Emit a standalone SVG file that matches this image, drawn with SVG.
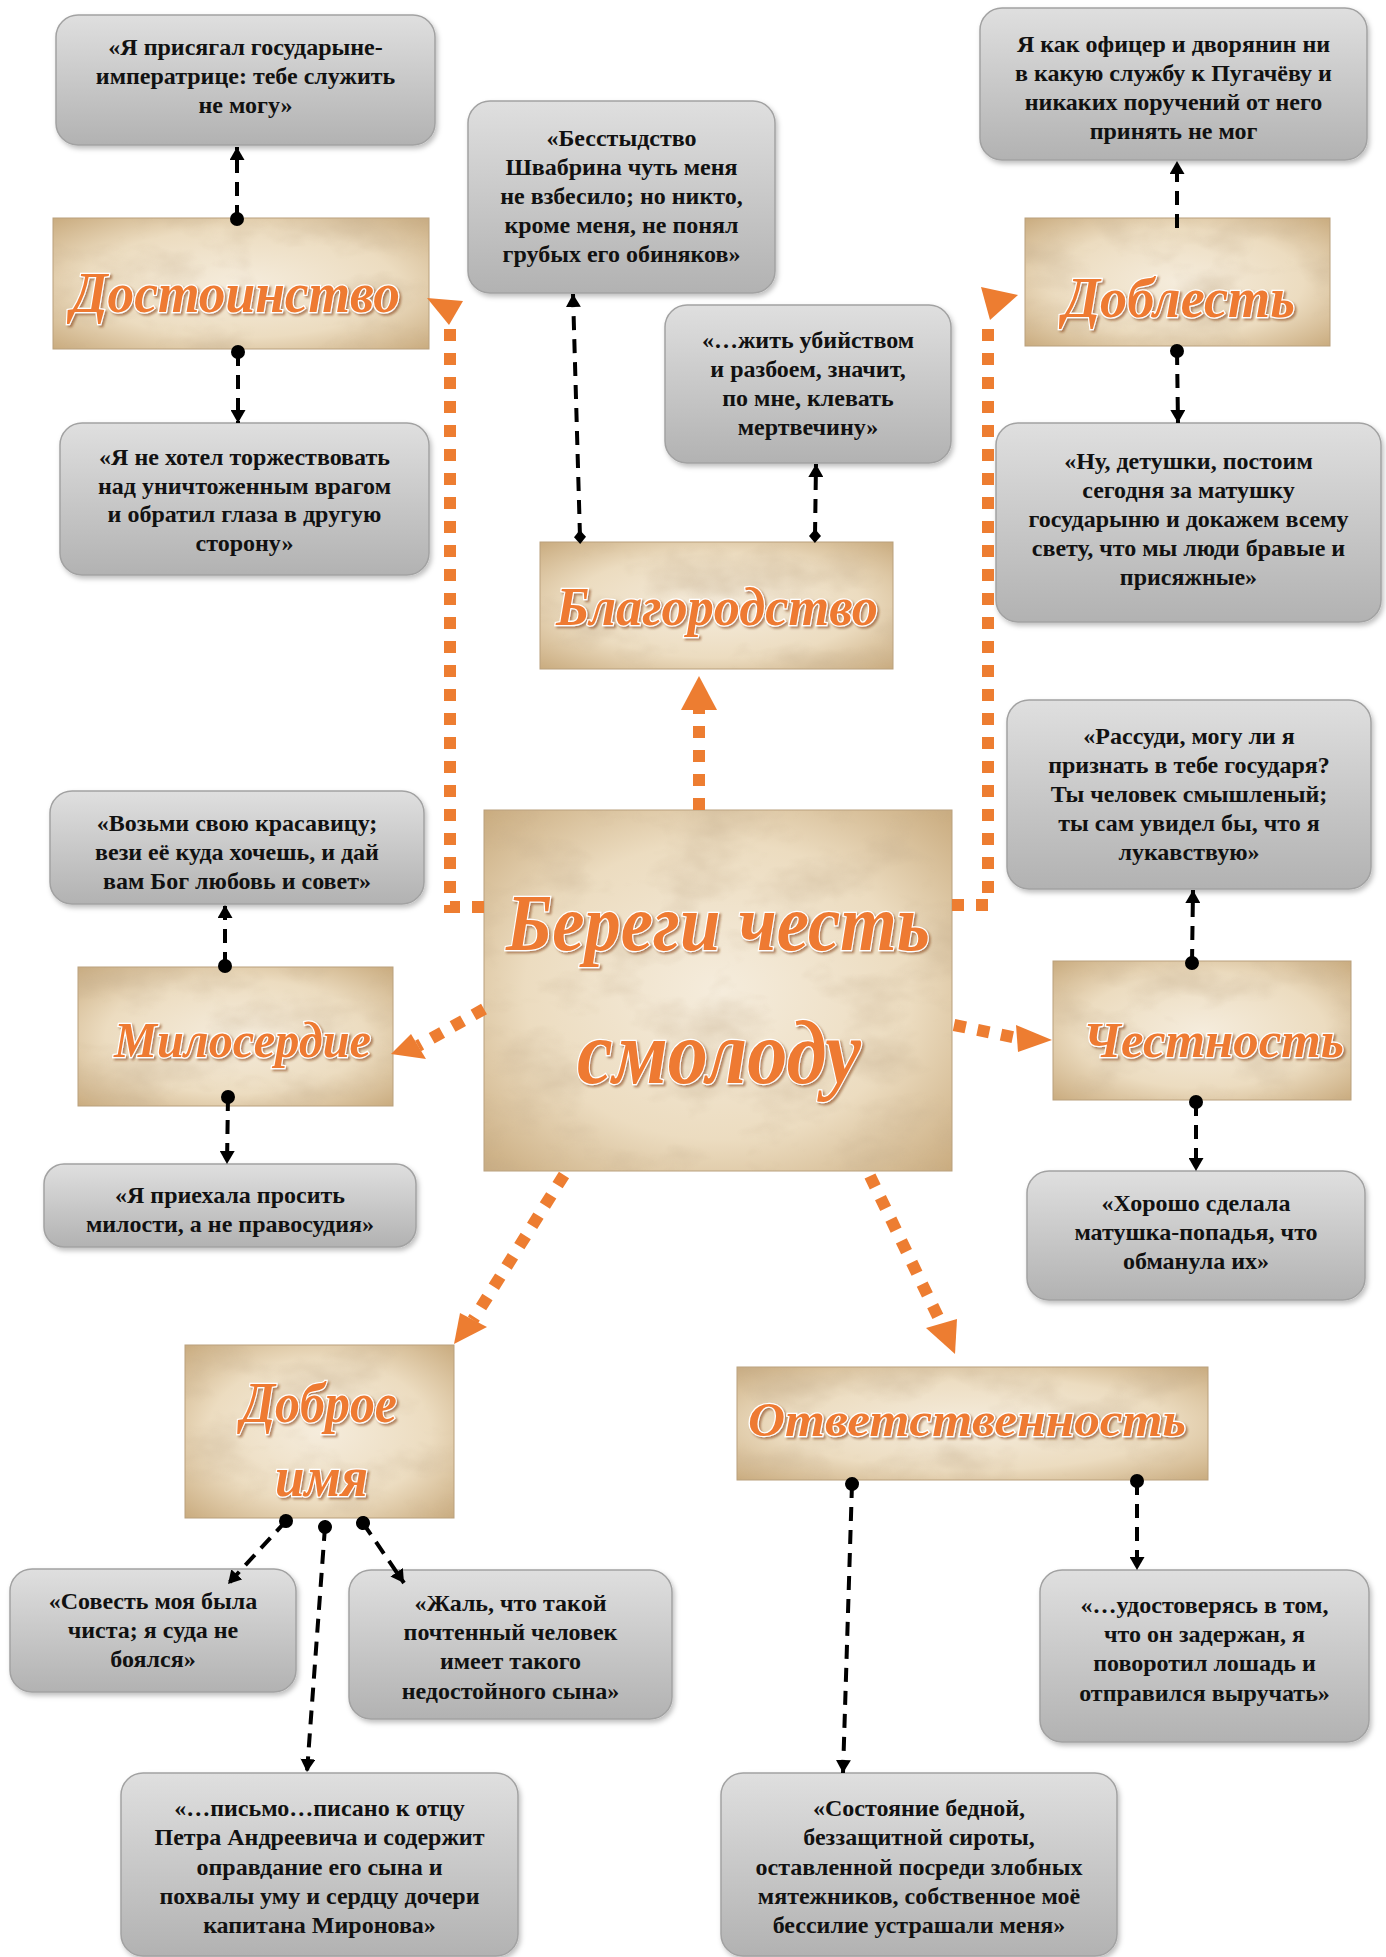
<svg xmlns="http://www.w3.org/2000/svg" width="1386" height="1957" viewBox="0 0 1386 1957">
<defs>
<style>
.box{fill:url(#gbox);stroke:#a2a2a2;stroke-width:1.5;filter:url(#sh)}
.bt{font-family:"Liberation Serif","Times New Roman",serif;font-weight:bold;font-size:24px;fill:#111;text-anchor:middle}
.tile{fill:url(#paperG);stroke:#b9a07c;stroke-width:1}
.grain{filter:url(#grain);opacity:.6}
.ttl{font-family:"Liberation Serif","Times New Roman",serif;font-style:italic;font-weight:bold;fill:#ee7a30;stroke:#fff;stroke-width:2.5;paint-order:stroke;filter:url(#tsh)}
.conn{fill:none;stroke:#000;stroke-width:4;stroke-dasharray:14 9}
.oc{fill:none;stroke:#ed7d31;stroke-width:12;stroke-dasharray:12 12}
.oh{fill:#ed7d31}
</style>
<linearGradient id="gbox" x1="0" y1="0" x2="0" y2="1">
<stop offset="0" stop-color="#dfdfdf"/>
<stop offset="1" stop-color="#b2b2b2"/>
</linearGradient>
<radialGradient id="paperG" cx="0.5" cy="0.5" r="0.75">
<stop offset="0" stop-color="#f5ecdc"/>
<stop offset="0.55" stop-color="#ecdcc0"/>
<stop offset="1" stop-color="#c4a475"/>
</radialGradient>
<filter id="grain" x="0" y="0" width="1" height="1">
<feTurbulence type="fractalNoise" baseFrequency="0.012 0.02" numOctaves="4" seed="5" result="t"/>
<feColorMatrix in="t" type="matrix" values="0 0 0 0 0.55  0 0 0 0 0.42  0 0 0 0 0.27  1.6 0 0 0 -0.75"/>
</filter>
<filter id="sh" x="-5%" y="-5%" width="112%" height="118%">
<feDropShadow dx="2" dy="3" stdDeviation="2.5" flood-color="#000" flood-opacity="0.25"/>
</filter>
<filter id="tsh" x="-10%" y="-20%" width="120%" height="150%">
<feDropShadow dx="2" dy="2" stdDeviation="1.2" flood-color="#8a4a1c" flood-opacity="0.6"/>
</filter>
<marker id="arr" viewBox="0 0 13 15" refX="13" refY="7.5" markerWidth="13" markerHeight="15" markerUnits="userSpaceOnUse" orient="auto">
<path d="M0,0 L13,7.5 L0,15 z" fill="#000"/>
</marker>
<marker id="dot" viewBox="0 0 16 16" refX="8" refY="8" markerWidth="16" markerHeight="16" markerUnits="userSpaceOnUse" orient="auto">
<circle cx="8" cy="8" r="7" fill="#000"/>
</marker>
<marker id="dia" viewBox="0 0 14 14" refX="7" refY="7" markerWidth="14" markerHeight="14" markerUnits="userSpaceOnUse" orient="auto">
<path d="M0,7 L7,1 L14,7 L7,13 z" fill="#000"/>
</marker>
</defs>
<rect width="1386" height="1957" fill="#fff"/>

<g id="node-center">
<rect class="tile" x="484" y="810" width="468" height="361"/>
<rect class="grain" x="484" y="810" width="468" height="361"/>
<text class="ttl" x="506" y="950" font-size="80" textLength="424" lengthAdjust="spacingAndGlyphs">Береги честь</text>
<text class="ttl" x="577" y="1083" font-size="90" textLength="284" lengthAdjust="spacingAndGlyphs">смолоду</text>
</g>

<g id="node-dostoinstvo">
<rect class="tile" x="53" y="218" width="376" height="131"/>
<rect class="grain" x="53" y="218" width="376" height="131"/>
<text class="ttl" x="71" y="312" font-size="56" textLength="329" lengthAdjust="spacingAndGlyphs">Достоинство</text>
</g>
<g id="node-a1">
<rect class="box" x="56" y="15" width="379" height="130" rx="22"/>
<text class="bt"><tspan x="245.5" y="55">«Я присягал государыне-</tspan><tspan x="245.5" y="84">императрице: тебе служить</tspan><tspan x="245.5" y="113">не могу»</tspan></text>
</g>
<g id="node-a2">
<rect class="box" x="60" y="423" width="369" height="152" rx="22"/>
<text class="bt"><tspan x="244.5" y="465">«Я не хотел торжествовать</tspan><tspan x="244.5" y="494">над уничтоженным врагом</tspan><tspan x="244.5" y="522">и обратил глаза в другую</tspan><tspan x="244.5" y="551">сторону»</tspan></text>
</g>

<g id="node-blagorodstvo">
<rect class="tile" x="540" y="542" width="353" height="127"/>
<rect class="grain" x="540" y="542" width="353" height="127"/>
<text class="ttl" x="556" y="625" font-size="54" textLength="322" lengthAdjust="spacingAndGlyphs">Благородство</text>
</g>
<g id="node-b1">
<rect class="box" x="468" y="101" width="307" height="192" rx="22"/>
<text class="bt"><tspan x="621.5" y="146">«Бесстыдство</tspan><tspan x="621.5" y="175">Швабрина чуть меня</tspan><tspan x="621.5" y="204">не взбесило; но никто,</tspan><tspan x="621.5" y="233">кроме меня, не понял</tspan><tspan x="621.5" y="262">грубых его обиняков»</tspan></text>
</g>
<g id="node-b2">
<rect class="box" x="665" y="305" width="286" height="158" rx="22"/>
<text class="bt"><tspan x="808" y="348">«…жить убийством</tspan><tspan x="808" y="377">и разбоем, значит,</tspan><tspan x="808" y="406">по мне, клевать</tspan><tspan x="808" y="435">мертвечину»</tspan></text>
</g>

<g id="node-doblest">
<rect class="tile" x="1025" y="218" width="305" height="128"/>
<rect class="grain" x="1025" y="218" width="305" height="128"/>
<text class="ttl" x="1063" y="317" font-size="58" textLength="232" lengthAdjust="spacingAndGlyphs">Доблесть</text>
</g>
<g id="node-c1">
<rect class="box" x="980" y="8" width="387" height="152" rx="22"/>
<text class="bt"><tspan x="1173.5" y="52">Я как офицер и дворянин ни</tspan><tspan x="1173.5" y="81">в какую службу к Пугачёву и</tspan><tspan x="1173.5" y="110">никаких поручений от него</tspan><tspan x="1173.5" y="139">принять не мог</tspan></text>
</g>
<g id="node-c2">
<rect class="box" x="996" y="423" width="385" height="199" rx="22"/>
<text class="bt"><tspan x="1188.5" y="469">«Ну, детушки, постоим</tspan><tspan x="1188.5" y="498">сегодня за матушку</tspan><tspan x="1188.5" y="527">государыню и докажем всему</tspan><tspan x="1188.5" y="556">свету, что мы люди бравые и</tspan><tspan x="1188.5" y="585">присяжные»</tspan></text>
</g>

<g id="node-miloserdie">
<rect class="tile" x="78" y="967" width="315" height="139"/>
<rect class="grain" x="78" y="967" width="315" height="139"/>
<text class="ttl" x="114" y="1057" font-size="50" textLength="257" lengthAdjust="spacingAndGlyphs">Милосердие</text>
</g>
<g id="node-d1">
<rect class="box" x="50" y="791" width="374" height="113" rx="22"/>
<text class="bt"><tspan x="237" y="831">«Возьми свою красавицу;</tspan><tspan x="237" y="860">вези её куда хочешь, и дай</tspan><tspan x="237" y="889">вам Бог любовь и совет»</tspan></text>
</g>
<g id="node-d2">
<rect class="box" x="44" y="1164" width="372" height="83" rx="20"/>
<text class="bt"><tspan x="230" y="1203">«Я приехала просить</tspan><tspan x="230" y="1232">милости, а не правосудия»</tspan></text>
</g>

<g id="node-chestnost">
<rect class="tile" x="1053" y="961" width="298" height="139"/>
<rect class="grain" x="1053" y="961" width="298" height="139"/>
<text class="ttl" x="1083" y="1057" font-size="50" textLength="261" lengthAdjust="spacingAndGlyphs">Честность</text>
</g>
<g id="node-e1">
<rect class="box" x="1007" y="700" width="364" height="189" rx="22"/>
<text class="bt"><tspan x="1189" y="744">«Рассуди, могу ли я</tspan><tspan x="1189" y="773">признать в тебе государя?</tspan><tspan x="1189" y="802">Ты человек смышленый;</tspan><tspan x="1189" y="831">ты сам увидел бы, что я</tspan><tspan x="1189" y="860">лукавствую»</tspan></text>
</g>
<g id="node-e2">
<rect class="box" x="1027" y="1171" width="338" height="129" rx="22"/>
<text class="bt"><tspan x="1196" y="1211">«Хорошо сделала</tspan><tspan x="1196" y="1240">матушка-попадья, что</tspan><tspan x="1196" y="1269">обманула их»</tspan></text>
</g>

<g id="node-dobroe-imya">
<rect class="tile" x="185" y="1345" width="269" height="173"/>
<rect class="grain" x="185" y="1345" width="269" height="173"/>
<text class="ttl" x="241" y="1422" font-size="58" textLength="156" lengthAdjust="spacingAndGlyphs">Доброе</text>
<text class="ttl" x="275" y="1496" font-size="56" textLength="93" lengthAdjust="spacingAndGlyphs">имя</text>
</g>
<g id="node-f1">
<rect class="box" x="10" y="1569" width="286" height="123" rx="22"/>
<text class="bt"><tspan x="153" y="1609">«Совесть моя была</tspan><tspan x="153" y="1638">чиста; я суда не</tspan><tspan x="153" y="1667">боялся»</tspan></text>
</g>
<g id="node-f2">
<rect class="box" x="349" y="1570" width="323" height="149" rx="22"/>
<text class="bt"><tspan x="510.5" y="1611">«Жаль, что такой</tspan><tspan x="510.5" y="1640">почтенный человек</tspan><tspan x="510.5" y="1669">имеет такого</tspan><tspan x="510.5" y="1699">недостойного сына»</tspan></text>
</g>
<g id="node-f3">
<rect class="box" x="121" y="1773" width="397" height="183" rx="22"/>
<text class="bt"><tspan x="319.5" y="1816">«…письмо…писано к отцу</tspan><tspan x="319.5" y="1845">Петра Андреевича и содержит</tspan><tspan x="319.5" y="1875">оправдание его сына и</tspan><tspan x="319.5" y="1904">похвалы уму и сердцу дочери</tspan><tspan x="319.5" y="1933">капитана Миронова»</tspan></text>
</g>

<g id="node-otvetstvennost">
<rect class="tile" x="737" y="1367" width="471" height="113"/>
<rect class="grain" x="737" y="1367" width="471" height="113"/>
<text class="ttl" x="748" y="1436" font-size="48" textLength="438" lengthAdjust="spacingAndGlyphs">Ответственность</text>
</g>
<g id="node-g1">
<rect class="box" x="1040" y="1570" width="329" height="172" rx="22"/>
<text class="bt"><tspan x="1204.5" y="1613">«…удостоверясь в том,</tspan><tspan x="1204.5" y="1642">что он задержан, я</tspan><tspan x="1204.5" y="1671">поворотил лошадь и</tspan><tspan x="1204.5" y="1701">отправился выручать»</tspan></text>
</g>
<g id="node-g2">
<rect class="box" x="721" y="1773" width="396" height="183" rx="22"/>
<text class="bt"><tspan x="919" y="1816">«Состояние бедной,</tspan><tspan x="919" y="1845">беззащитной сироты,</tspan><tspan x="919" y="1875">оставленной посреди злобных</tspan><tspan x="919" y="1904">мятежников, собственное моё</tspan><tspan x="919" y="1933">бессилие устрашали меня»</tspan></text>
</g>

<g id="connectors">
<path class="conn" d="M237,219 L237,147" marker-start="url(#dot)" marker-end="url(#arr)"/>
<path class="conn" d="M238,352 L238,423" marker-start="url(#dot)" marker-end="url(#arr)"/>
<path class="conn" d="M580,537 L573,294" marker-start="url(#dia)" marker-end="url(#arr)"/>
<path class="conn" d="M815,536 L816,464" marker-start="url(#dia)" marker-end="url(#arr)"/>
<path class="conn" d="M1177,228 L1177,161" marker-end="url(#arr)"/>
<path class="conn" d="M1177,351 L1178,423" marker-start="url(#dot)" marker-end="url(#arr)"/>
<path class="conn" d="M225,966 L225,905" marker-start="url(#dot)" marker-end="url(#arr)"/>
<path class="conn" d="M228,1097 L227,1164" marker-start="url(#dot)" marker-end="url(#arr)"/>
<path class="conn" d="M1192,963 L1193,890" marker-start="url(#dot)" marker-end="url(#arr)"/>
<path class="conn" d="M1196,1102 L1196,1171" marker-start="url(#dot)" marker-end="url(#arr)"/>
<path class="conn" d="M286,1521 L228,1584" marker-start="url(#dot)" marker-end="url(#arr)"/>
<path class="conn" d="M325,1527 L307,1772" marker-start="url(#dot)" marker-end="url(#arr)"/>
<path class="conn" d="M363,1523 L404,1583" marker-start="url(#dot)" marker-end="url(#arr)"/>
<path class="conn" d="M852,1484 L843,1773" marker-start="url(#dot)" marker-end="url(#arr)"/>
<path class="conn" d="M1137,1481 L1137,1570" marker-start="url(#dot)" marker-end="url(#arr)"/>
<path class="oc" d="M484,907 L450,907 L450,326"/>
<polygon class="oh" points="427,298 463,301 449,325"/>
<path class="oc" d="M952,905 L988,905 L988,320"/>
<polygon class="oh" points="981,287 1018,295 990,320"/>
<path class="oc" d="M699,810 L699,710"/>
<polygon class="oh" points="699,676 681,710 717,710"/>
<path class="oc" d="M484,1009 L418,1046"/>
<polygon class="oh" points="391,1054 426,1059 411,1034"/>
<path class="oc" d="M954,1025 L1017,1038"/>
<polygon class="oh" points="1052,1040 1016,1025 1018,1052"/>
<path class="oc" d="M564,1175 L473,1320"/>
<polygon class="oh" points="454,1344 460,1313 487,1327"/>
<path class="oc" d="M870,1176 L941,1323"/>
<polygon class="oh" points="955,1354 926,1328 957,1319"/>
</g>
</svg>
